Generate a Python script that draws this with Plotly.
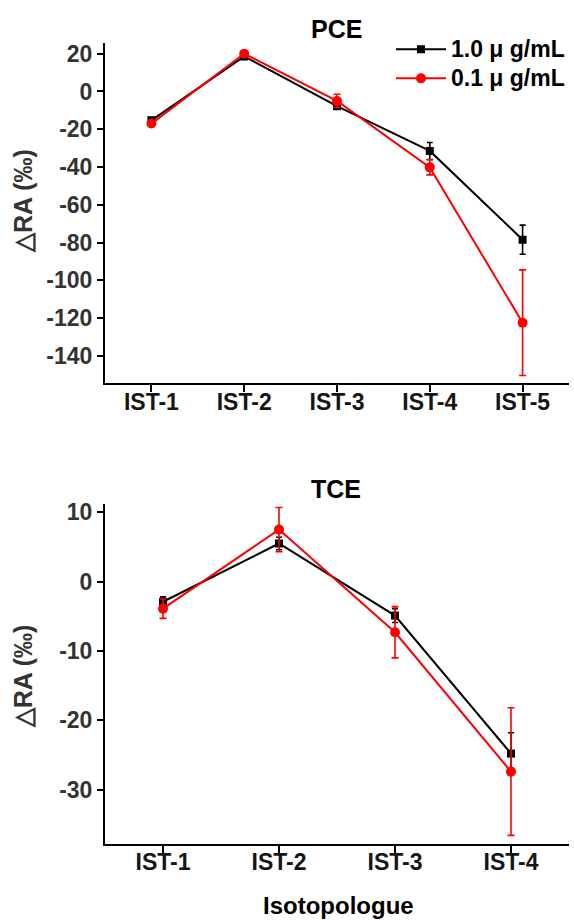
import plotly.graph_objects as go

# ---------------- data ----------------
pce_categories = ["IST-1", "IST-2", "IST-3", "IST-4", "IST-5"]
pce_high = [-15.3, 18.6, -7.8, -31.5, -78.5]
pce_high_err = [1.5, 1.2, 1.5, 4.5, 7.7]
pce_low = [-17.0, 20.0, -5.0, -40.2, -122.5]
pce_low_err = [1.5, 1.5, 3.5, 4.0, 28.0]

tce_categories = ["IST-1", "IST-2", "IST-3", "IST-4"]
tce_high = [-2.9, 5.5, -4.9, -24.8]
tce_high_err = [0.7, 0.9, 1.0, 3.0]
tce_low = [-3.9, 7.5, -7.3, -27.4]
tce_low_err = [1.4, 3.2, 3.7, 9.2]

series_names = ["1.0 μ g/mL", "0.1 μ g/mL"]
pce_ticks = [20, 0, -20, -40, -60, -80, -100, -120, -140]
tce_ticks = [10, 0, -10, -20, -30]

# ---------------- styling ----------------
W, H = 574, 920
FONT = "Liberation Sans, Arial, sans-serif"
BLACK = "#000000"
RED = "#ff0000"
YTICKCOL = "#333333"
XTICKCOL = "#151515"


def px_x(p):
    return p / W


def px_y(p):
    return 1 - p / H


fig = go.Figure()

panels = [
    ("x", "y", pce_categories, pce_high, pce_high_err, pce_low, pce_low_err, True),
    ("x2", "y2", tce_categories, tce_high, tce_high_err, tce_low, tce_low_err, False),
]
for xa, ya, cats, hi, hie, lo, loe, show in panels:
    fig.add_trace(go.Scatter(
        x=cats, y=hi, xaxis=xa, yaxis=ya,
        name='<span style="font-size:23px">%s</span>' % series_names[0],
        mode="lines+markers", showlegend=show, legendgroup="hi",
        line=dict(color=BLACK, width=2),
        marker=dict(symbol="square", size=8, color=BLACK),
        error_y=dict(type="data", array=hie, visible=True, color=BLACK,
                     thickness=1.6, width=3),
    ))
    fig.add_trace(go.Scatter(
        x=cats, y=lo, xaxis=xa, yaxis=ya,
        name='<span style="font-size:23px">%s</span>' % series_names[1],
        mode="lines+markers", showlegend=show, legendgroup="lo",
        line=dict(color=RED, width=2),
        marker=dict(symbol="circle", size=10, color=RED),
        error_y=dict(type="data", array=loe, visible=True, color=RED,
                     thickness=1.6, width=3.5),
    ))

xdom = [px_x(105), px_x(569)]
line_common = dict(
    showline=True, linecolor=BLACK, linewidth=2, showgrid=False, zeroline=False,
    ticks="outside", tickwidth=2, tickcolor=BLACK, mirror=False,
)
xfont = dict(family=FONT, size=23, color=XTICKCOL, weight="bold")
yfont = dict(family=FONT, size=23, color=YTICKCOL, weight="bold")


def labels(vals):
    return [str(v) for v in vals]


fig.update_layout(
    width=W, height=H,
    margin=dict(l=0, r=0, t=0, b=0),
    paper_bgcolor="white", plot_bgcolor="white",
    font=dict(family=FONT, size=22, color=BLACK, weight="bold"),
    xaxis=dict(domain=xdom, anchor="y", type="category", range=[-0.5, 4.5],
               ticklen=7, tickfont=xfont, ticklabelstandoff=-10, **line_common),
    yaxis=dict(domain=[px_y(380), px_y(38)], anchor="x", range=[-154.4, 25.8],
               tickmode="array", tickvals=pce_ticks, ticktext=labels(pce_ticks),
               ticklen=6, tickfont=yfont, **line_common),
    xaxis2=dict(domain=xdom, anchor="y2", type="category", range=[-0.5, 3.5],
                ticklen=7, tickfont=xfont, ticklabelstandoff=-10, **line_common),
    yaxis2=dict(domain=[px_y(843.3), px_y(501.7)], anchor="x2", range=[-37.8, 11.2],
                tickmode="array", tickvals=tce_ticks, ticktext=labels(tce_ticks),
                ticklen=6, tickfont=yfont, **line_common),
    legend=dict(
        x=px_x(391), y=px_y(25), xanchor="left", yanchor="top",
        bgcolor="rgba(0,0,0,0)", borderwidth=0,
        font=dict(family=FONT, size=20, color=BLACK, weight="bold"),
        itemwidth=50, tracegroupgap=0,
    ),
    showlegend=True,
)

annots = [
    dict(text="PCE", x=px_x(336), y=px_y(24), size=25, color=BLACK, angle=0),
    dict(text="TCE", x=px_x(336), y=px_y(486.7), size=25, color=BLACK, angle=0),
    dict(text="△RA (‰)", x=px_x(23), y=px_y(197), size=25, color=YTICKCOL, angle=-90),
    dict(text="△RA (‰)", x=px_x(23), y=px_y(675), size=25, color=YTICKCOL, angle=-90),
    dict(text="Isotopologue", x=px_x(338), y=px_y(905), size=24, color=BLACK, angle=0),
]
for a in annots:
    fig.add_annotation(
        text=a["text"], x=a["x"], y=a["y"], xref="paper", yref="paper",
        xanchor="center", yanchor="middle", showarrow=False, textangle=a["angle"],
        font=dict(family=FONT, size=a["size"], color=a["color"], weight="bold"),
    )

fig.write_html("out.html")
